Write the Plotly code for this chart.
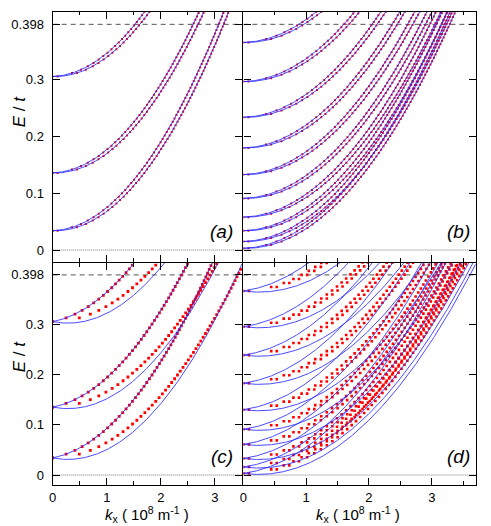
import numpy as np
import plotly.graph_objects as go

W, H = 491, 526
PAD = 8  # page body margin the browser adds around the figure

# subband bottoms E/t at k=0
SUB_A = [0.034, 0.136, 0.306]
SUB_B = [0.003, 0.015, 0.034, 0.058, 0.091, 0.133, 0.180, 0.234, 0.297, 0.366]
SUB_C = [0.034, 0.135, 0.305]
SUB_D = [0.0033, 0.016, 0.033, 0.061, 0.091, 0.130, 0.1825, 0.2385, 0.295, 0.366]

# curvature (E/t per (1e8 m^-1)^2) and linear splitting
MASS = {"a": 0.0375, "b": 0.0375, "c": 0.0375, "d": 0.035}
SPLIT_A = [0.0034, 0.0034, 0.0034]
SPLIT_B = [0.003] * 10
SPLIT_C = [0.021, 0.021, 0.021]
SPLIT_D = [0.017, 0.017, 0.0172, 0.0172, 0.0174, 0.0174, 0.0175, 0.0175, 0.0175, 0.0175]
DOT_MASS = {"c": 0.031, "d": 0.034}
DOT_SPLIT_D = 0.003

Y_TICKS = [0, 0.1, 0.2, 0.3, 0.398]
Y_TICKTEXT = ["0", "0.1", "0.2", "0.3", "0.398"]
X_TICKS = [0, 1, 2, 3]
E_LIMIT = 0.398

BLUE = "rgb(45,45,255)"
RED = "#ff0000"
FONT = "Liberation Sans, Arial, sans-serif"
LW = 1.4

# pixel frame of the four panels (in the 491x526 shot)
XL0, XM, XR1 = 52.7, 242.0, 475.7
YT0, YMID, YB1 = 11.7, 261.7, 485.0
XRANGE = {"a": [0, 3.5], "b": [0, 3.7], "c": [0, 3.5], "d": [0, 3.7]}
YRANGE = {"a": [-0.0206, 0.4203], "b": [-0.0206, 0.4203],
          "c": [-0.0198, 0.4215], "d": [-0.0198, 0.4215]}
AX = {"a": "", "b": "2", "c": "3", "d": "4"}
FW, FH = W - PAD, H - PAD


def fx(px):
    return (px - PAD) / FW


def fy(py):
    return 1 - (py - PAD) / FH


def curve(e0, c, a, kmax):
    k = np.linspace(0, kmax, 400)
    e = e0 + c * k * k + a * k
    keep = e <= 0.43
    return k[keep], e[keep]


def dots(e0, c, a, de):
    e = np.arange(e0, 0.43, de)
    k = (-a + np.sqrt(a * a + 4 * c * (e - e0))) / (2 * c)
    return k, e


fig = go.Figure()


def add_panel(p, subs, splits):
    xa, ya = "x" + AX[p], "y" + AX[p]
    kmax = XRANGE[p][1]
    c = MASS[p]
    # red dots first, blue lines over them
    for e0, a in zip(subs, splits):
        if p in ("a", "b"):
            series, de, sz = [(c, a), (c, -a)], 0.006, 2
        elif p == "c":
            series, de, sz = [(c, a), (DOT_MASS[p], 0.0)], 0.0075, 2.8
        else:
            series, de, sz = [(DOT_MASS[p], DOT_SPLIT_D), (DOT_MASS[p], -DOT_SPLIT_D)], 0.008, 2.6
        for cc, aa in series:
            k, e = dots(e0, cc, aa, de)
            keep = k <= kmax
            fig.add_trace(go.Scatter(x=k[keep], y=e[keep], mode="markers", xaxis=xa, yaxis=ya,
                                     marker=dict(color=RED, size=sz, symbol="square",
                                                 line=dict(width=0)),
                                     showlegend=False, hoverinfo="skip"))
    for e0, a in zip(subs, splits):
        for s in (1, -1):
            k, e = curve(e0, c, s * a, kmax)
            fig.add_trace(go.Scatter(x=k, y=e, mode="lines", xaxis=xa, yaxis=ya,
                                     line=dict(color=BLUE, width=1), opacity=0.85,
                                     showlegend=False, hoverinfo="skip"))


add_panel("a", SUB_A, SPLIT_A)
add_panel("b", SUB_B, SPLIT_B)
add_panel("c", SUB_C, SPLIT_C)
add_panel("d", SUB_D, SPLIT_D)

# shared borders: shift right/lower panels so the two frame lines overlap
dom_x = {"a": [fx(XL0), fx(XM)], "b": [fx(XM + LW), fx(XR1)],
         "c": [fx(XL0), fx(XM)], "d": [fx(XM + LW), fx(XR1)]}
dom_y = {"a": [fy(YMID), fy(YT0)], "b": [fy(YMID), fy(YT0)],
         "c": [fy(YB1), fy(YMID + LW)], "d": [fy(YB1), fy(YMID + LW)]}

layout = dict(width=FW, height=FH, margin=dict(l=0, r=0, t=0, b=0),
              paper_bgcolor="white", plot_bgcolor="white",
              font=dict(family=FONT, size=13, color="black"), showlegend=False)

for p in "abcd":
    common = dict(showline=True, linecolor="black", linewidth=LW, mirror="ticks",
                  ticks="inside", tickcolor="black", tickwidth=1.2, showgrid=False,
                  zeroline=False, automargin=False, tickfont=dict(family=FONT, size=13))
    layout["xaxis" + AX[p]] = dict(
        common, domain=dom_x[p], range=XRANGE[p], anchor="y" + AX[p],
        tickvals=X_TICKS, ticklen=7, showticklabels=p in "cd", ticklabelstandoff=0,
        minor=dict(ticks="inside", dtick=0.5, tick0=0, ticklen=3.5, tickwidth=1.2,
                   tickcolor="black", showgrid=False))
    layout["yaxis" + AX[p]] = dict(
        common, domain=dom_y[p], range=YRANGE[p], anchor="x" + AX[p],
        tickvals=Y_TICKS, ticktext=Y_TICKTEXT, ticklen=7,
        showticklabels=p in "ac", ticklabelstandoff=5)

fig.update_layout(**layout)

# reference lines
for p in "abcd":
    xr, yr = "x" + AX[p] + " domain", "y" + AX[p]
    fig.add_shape(type="line", xref=xr, yref=yr, x0=0, x1=1, y0=E_LIMIT, y1=E_LIMIT,
                  line=dict(color="#555555", width=1, dash="5px,4px"), layer="below")
    fig.add_shape(type="line", xref=xr, yref=yr, x0=0, x1=1, y0=0, y1=0,
                  line=dict(color="#777777", width=1, dash="1px,1px"), layer="below")

# panel tags
tags = {"a": (221.7, 231.7), "b": (458, 231.7), "c": (221.7, 456.5), "d": (458, 456.5)}
for p, (px, py) in tags.items():
    fig.add_annotation(x=fx(px), y=fy(py), xref="paper", yref="paper", showarrow=False,
                       text="<i>(%s)</i>" % p, font=dict(family=FONT, size=19),
                       xanchor="center", yanchor="middle")

for py in (111.7, 356.7):
    fig.add_annotation(x=fx(PAD), y=fy(py), xref="paper", yref="paper", showarrow=False,
                       text="<i>E</i> / <i>t</i>", textangle=-90,
                       font=dict(family=FONT, size=17), xanchor="left", yanchor="middle")

for px in (146.7, 358.0):
    fig.add_annotation(x=fx(px), y=0, xref="paper", yref="paper", showarrow=False,
                       text="<i>k</i><sub>x</sub> ( 10<sup>8</sup> m<sup>-1</sup> )",
                       font=dict(family=FONT, size=15), xanchor="center", yanchor="bottom",
                       borderpad=0)

fig.write_html("out.html")
